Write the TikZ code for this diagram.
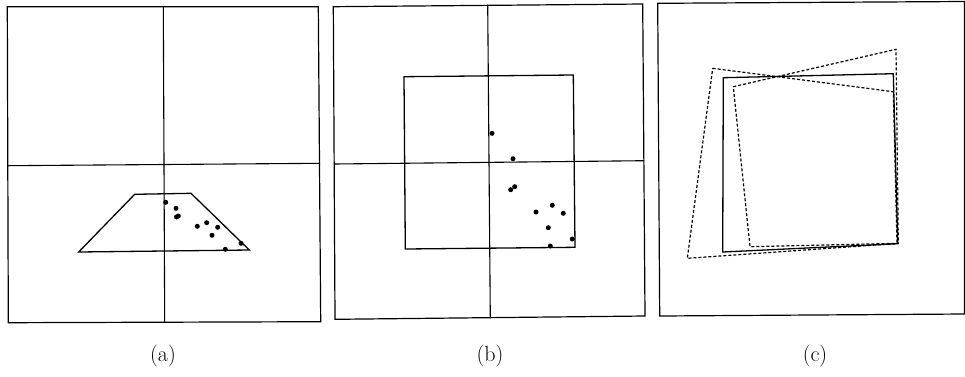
\documentclass[tikz,border=0pt]{standalone}
\begin{document}
\begin{tikzpicture}[x=1pt,y=-1pt,
  frame/.style={line width=1.2pt,line join=miter},
  axis/.style={line width=1.1pt},
  solidquad/.style={line width=1.3pt,line join=miter},
  dashquad/.style={line width=1.2pt,dash pattern=on 3pt off 2pt},
  pt/.style={fill=black},
  captext/.style={font=\fontsize{22}{26}\selectfont,inner sep=0pt}]
\useasboundingbox (0,0) rectangle (965,376);
% ---------- panel (a)
\draw[frame] (7.3,6.7) -- (318.3,6.7) -- (320.7,321.7) -- (8.3,322.7) -- cycle;
\draw[axis] (163.3,6.7) -- (164.7,322.3);
\draw[axis] (7.5,165.7) -- (320,163.3);
\draw[solidquad] (134.7,194.3) -- (191,193.3) -- (249.3,250) -- (78.7,252) -- cycle;
\foreach \p in {(165.7,202.3),(176,208.3),(178.3,216),(176.5,217),(197.3,226.3),(206.7,222.7),(217.7,227.3),(212,235.3),(241,243.3),(225.3,249.3)}
  \fill[pt] \p circle (2.5);
\node[captext] (la) at (163,356) {(a)};
% ---------- panel (b)
\draw[frame] (333.3,6.7) -- (642.7,4) -- (645,316) -- (335,319.3) -- cycle;
\draw[axis] (487.7,4.5) -- (490.3,318);
\draw[axis] (334,164) -- (644,160.7);
\draw[solidquad] (404,76.7) -- (573.3,75) -- (575,247.3) -- (405.3,249) -- cycle;
\foreach \p in {(492,133.3),(513,158.7),(510.7,189.7),(514.7,186.7),(536,212),(552.3,205.3),(563.3,213.3),(548.3,227.7),(572.3,239),(550.3,246)}
  \fill[pt] \p circle (2.5);
\node[captext] (lb) at (490,356) {(b)};
% ---------- panel (c)
\draw[frame] (657.7,3.3) -- (964.5,1.5) -- (964.5,314) -- (659.7,316) -- cycle;
\draw[solidquad] (723.3,77.7) -- (893.3,73.7) -- (897.7,243.7) -- (722.7,252) -- cycle;
\draw[dashquad] (712.7,68.3) -- (893.3,91.7) -- (897,243.5) -- (687.3,258.3) -- cycle;
\draw[dashquad] (733.3,86.7) -- (896,49.3) -- (898.3,243.3) -- (750,246.7) -- cycle;
\node[captext] (lc) at (815,356) {(c)};
\end{tikzpicture}
\end{document}
